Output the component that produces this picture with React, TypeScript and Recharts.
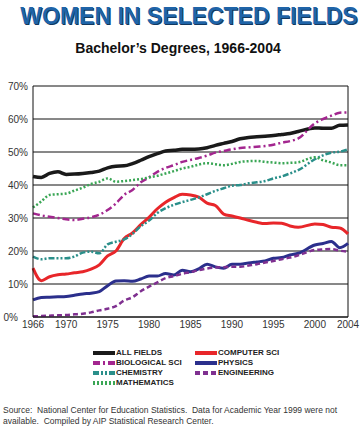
import { LineChart, Line, XAxis, YAxis, CartesianGrid, ReferenceLine } from 'recharts';

// 1999 not available -> null, lines are joined across the gap
const years = [1966, 1967, 1968, 1969, 1970, 1971, 1972, 1973, 1974, 1975, 1976, 1977, 1978, 1979, 1980, 1981, 1982, 1983, 1984, 1985, 1986, 1987, 1988, 1989, 1990, 1991, 1992, 1993, 1994, 1995, 1996, 1997, 1998, 1999, 2000, 2001, 2002, 2003, 2004];
const allFields = [42.6, 42.3, 43.5, 44.0, 43.2, 43.3, 43.5, 43.8, 44.2, 45.2, 45.7, 45.8, 46.5, 47.5, 48.6, 49.5, 50.3, 50.5, 50.8, 50.8, 50.9, 51.3, 52.0, 52.6, 53.2, 54.0, 54.4, 54.6, 54.8, 55.0, 55.3, 55.6, 56.2, null, 57.3, 57.2, 57.2, 58.1, 58.2];
const mathematics = [33.2, 35.0, 37.0, 37.2, 37.4, 38.3, 39.2, 40.3, 41.0, 42.0, 41.0, 41.2, 41.5, 41.8, 42.3, 42.8, 43.5, 44.2, 45.0, 45.5, 46.2, 46.6, 46.3, 46.0, 46.4, 47.0, 47.2, 47.3, 47.0, 46.8, 46.6, 46.7, 46.9, null, 48.4, 47.5, 46.8, 46.0, 46.0];
const bioSci = [31.4, 30.8, 30.4, 30.0, 29.6, 29.4, 29.8, 30.2, 31.0, 32.4, 34.4, 37.0, 38.5, 40.8, 42.3, 44.0, 45.2, 46.0, 47.0, 47.6, 48.2, 48.9, 49.8, 50.3, 50.8, 51.2, 51.4, 51.6, 51.8, 52.2, 52.8, 53.3, 54.1, null, 58.7, 60.0, 61.0, 61.9, 62.0];
const chemistry = [18.3, 17.5, 17.8, 17.8, 17.8, 18.3, 19.5, 19.8, 19.3, 22.0, 22.8, 23.5, 25.2, 27.5, 29.2, 31.5, 33.0, 34.0, 34.8, 35.5, 36.2, 37.2, 38.2, 39.0, 39.8, 40.0, 40.5, 40.8, 41.2, 42.0, 42.6, 43.5, 44.5, null, 47.8, 49.0, 49.8, 50.1, 50.8];
const computerSci = [14.8, 11.0, 12.2, 12.8, 13.0, 13.4, 13.7, 14.5, 15.8, 18.5, 20.0, 23.8, 25.5, 28.0, 30.2, 32.8, 34.8, 36.2, 37.2, 37.0, 36.3, 34.5, 33.8, 31.2, 30.6, 30.0, 29.3, 28.7, 28.3, 28.5, 28.4, 27.6, 27.2, null, 28.2, 28.0, 27.2, 27.0, 25.2];
const physics = [5.2, 5.9, 6.0, 6.1, 6.2, 6.6, 7.0, 7.2, 7.7, 9.5, 10.9, 11.0, 10.8, 11.5, 12.4, 12.4, 13.2, 12.7, 14.2, 13.7, 14.6, 16.0, 15.2, 14.8, 16.0, 16.0, 16.4, 16.7, 17.0, 17.8, 18.0, 18.8, 19.3, null, 21.8, 22.3, 22.9, 21.0, 22.3];
const engineering = [0.2, 0.3, 0.4, 0.5, 0.6, 0.8, 1.0, 1.4, 2.0, 2.5, 3.3, 5.0, 6.0, 7.8, 9.2, 10.5, 11.8, 12.4, 13.1, 13.6, 14.2, 14.7, 15.0, 15.1, 15.2, 15.2, 15.6, 16.0, 16.5, 17.0, 17.5, 18.0, 18.7, null, 20.3, 20.5, 20.6, 20.1, 19.8];

const xTicks = [1966, 1970, 1975, 1980, 1985, 1990, 1995, 2000, 2004];
const yTicks = [0, 10, 20, 30, 40, 50, 60, 70];

const data = years.map((year, i) => ({
  year,
  allFields: allFields[i],
  mathematics: mathematics[i],
  bioSci: bioSci[i],
  chemistry: chemistry[i],
  computerSci: computerSci[i],
  physics: physics[i],
  engineering: engineering[i],
}));

const series = [
  { key: 'allFields', name: 'ALL FIELDS', color: '#1a1a1a', width: 3.5, dash: undefined },
  { key: 'computerSci', name: 'COMPUTER SCI', color: '#e8262a', width: 3, dash: undefined },
  { key: 'bioSci', name: 'BIOLOGICAL SCI', color: '#a3268f', width: 2.5, dash: '7 3 2 3' },
  { key: 'physics', name: 'PHYSICS', color: '#2b2f8c', width: 3, dash: undefined },
  { key: 'chemistry', name: 'CHEMISTRY', color: '#2a8f8a', width: 2.5, dash: '6 2 2 2 2 2' },
  { key: 'engineering', name: 'ENGINEERING', color: '#7f3090', width: 2.5, dash: '5 3' },
  { key: 'mathematics', name: 'MATHEMATICS', color: '#3aa655', width: 2.5, dash: '2 2' },
];

const font = '"Liberation Sans", Arial, sans-serif';

// 0% sits further left so it clears the 1966 label
const YTick = (props: any) => {
  const { x, y, payload } = props;
  const shift = payload.value === 0 ? 10 : 0;
  return (
    <text x={x - shift} y={y} dy="0.35em" textAnchor="end" fontSize={10} fill="#333" fontFamily={font}>
      {`${payload.value}%`}
    </text>
  );
};

function LegendBlock() {
  return (
    <div style={{ position: 'absolute', left: 0, top: 348, width: 364 }}>
      {series.map((s, i) => {
        const col = i % 2;
        const row = Math.floor(i / 2);
        return (
          <div
            key={s.key}
            style={{
              position: 'absolute',
              left: col === 0 ? 93 : 195,
              top: row * 10,
              height: 10,
              display: 'flex',
              alignItems: 'center',
              whiteSpace: 'nowrap',
            }}
          >
            <svg width={22} height={10} style={{ display: 'block' }}>
              <line x1={0} y1={5} x2={22} y2={5} stroke={s.color} strokeWidth={4} strokeDasharray={s.dash} />
            </svg>
            <span style={{ fontSize: 8, fontWeight: 'bold', color: '#222', marginLeft: 1, lineHeight: '10px' }}>{s.name}</span>
          </div>
        );
      })}
    </div>
  );
}

export default function App() {
  return (
    <div style={{ position: 'absolute', left: 0, top: 0, width: 364, height: 434, background: '#fff', fontFamily: font, overflow: 'hidden' }}>
      <LineChart width={364} height={340} data={data} margin={{ top: 86, right: 16, left: 0, bottom: 3 }}>
        <CartesianGrid vertical={false} stroke="#111" strokeWidth={1} />
        <XAxis
          dataKey="year"
          type="number"
          domain={[1966, 2004]}
          ticks={xTicks}
          interval={0}
          height={20}
          tickLine={false}
          tickSize={0}
          tickMargin={4}
          axisLine={{ stroke: '#111' }}
          tick={{ fontSize: 10, fill: '#333', fontFamily: font }}
        />
        <YAxis
          domain={[0, 70]}
          ticks={yTicks}
          interval={0}
          width={33}
          tickLine={false}
          tickSize={0}
          tickMargin={5}
          axisLine={{ stroke: '#111' }}
          tick={<YTick />}
        />
        <ReferenceLine x={2004} stroke="#111" />
        {series.map((s) => (
          <Line
            key={s.key}
            type="monotone"
            dataKey={s.key}
            name={s.name}
            stroke={s.color}
            strokeWidth={s.width}
            strokeDasharray={s.dash}
            dot={false}
            connectNulls
            isAnimationActive={false}
          />
        ))}
      </LineChart>
      <div style={{ position: 'absolute', left: 14, top: 5, width: 350, textAlign: 'center', fontSize: 23, lineHeight: '23px', fontWeight: 'bold', color: '#1f64a8', textShadow: '1px 1px 0 #12385f' }}>
        WOMEN IN SELECTED FIELDS
      </div>
      <div style={{ position: 'absolute', left: 0, top: 41, width: 356, textAlign: 'center', fontSize: 14, lineHeight: '14px', fontWeight: 'bold', color: '#111' }}>
        Bachelor’s Degrees, 1966-2004
      </div>
      <LegendBlock />
      <div style={{ position: 'absolute', left: 3, top: 405, width: 360, fontSize: 8.5, lineHeight: '11px', color: '#333' }}>
        Source:&nbsp; National Center for Education Statistics.&nbsp; Data for Academic Year 1999 were not available.&nbsp; Compiled by AIP Statistical Research Center.
      </div>
    </div>
  );
}
